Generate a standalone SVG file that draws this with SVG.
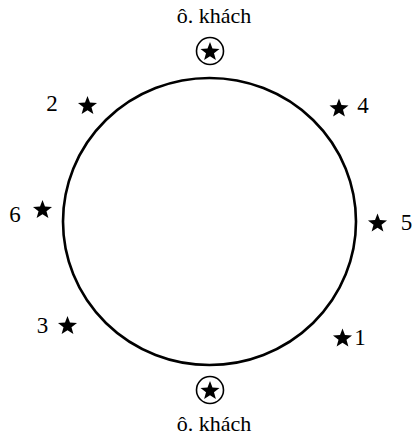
<svg xmlns="http://www.w3.org/2000/svg" xmlns:xlink="http://www.w3.org/1999/xlink" width="415" height="437" viewBox="0 0 415 437">
<style>
  .lbl{font-family:"Liberation Serif","Times New Roman",serif;font-size:23px;fill:#000;text-anchor:middle}
  .cap{font-family:"Liberation Serif","Times New Roman",serif;font-size:22px;fill:#000;text-anchor:middle}
  .ring{fill:none;stroke:#000;stroke-width:1.6}
</style>
<defs>
  <path id="star" d="M0,-10 L2.47,-3.4 L9.51,-3.09 L3.99,1.3 L5.88,8.09 L0,4.2 L-5.88,8.09 L-3.99,1.3 L-9.51,-3.09 L-2.47,-3.4 Z" fill="#000"/>
</defs>
<rect width="415" height="437" fill="#fff"/>
<g id="table">
  <ellipse cx="209.5" cy="221.5" rx="146.5" ry="143.5" fill="none" stroke="#000" stroke-width="2.6"/>
</g>
<g id="connectors"></g>
<g id="guest-top">
  <text class="cap" x="214" y="23">ô. khách</text>
  <circle class="ring" cx="210" cy="51" r="13.5"/>
  <use xlink:href="#star" x="210" y="52"/>
</g>
<g id="guest-bottom">
  <circle class="ring" cx="210" cy="390" r="13.5"/>
  <use xlink:href="#star" x="210" y="391"/>
  <text class="cap" x="214" y="431">ô. khách</text>
</g>
<g id="seat-2">
  <use xlink:href="#star" x="87.5" y="106"/>
  <text class="lbl" x="52" y="111">2</text>
</g>
<g id="seat-4">
  <use xlink:href="#star" x="339" y="108.5"/>
  <text class="lbl" x="363" y="113">4</text>
</g>
<g id="seat-6">
  <use xlink:href="#star" x="42.5" y="210"/>
  <text class="lbl" x="15" y="222">6</text>
</g>
<g id="seat-5">
  <use xlink:href="#star" x="377.5" y="223.5"/>
  <text class="lbl" x="406.5" y="230">5</text>
</g>
<g id="seat-3">
  <use xlink:href="#star" x="67.5" y="326"/>
  <text class="lbl" x="42.5" y="333">3</text>
</g>
<g id="seat-1">
  <use xlink:href="#star" x="342.5" y="338.5"/>
  <text class="lbl" x="360" y="345">1</text>
</g>
</svg>
